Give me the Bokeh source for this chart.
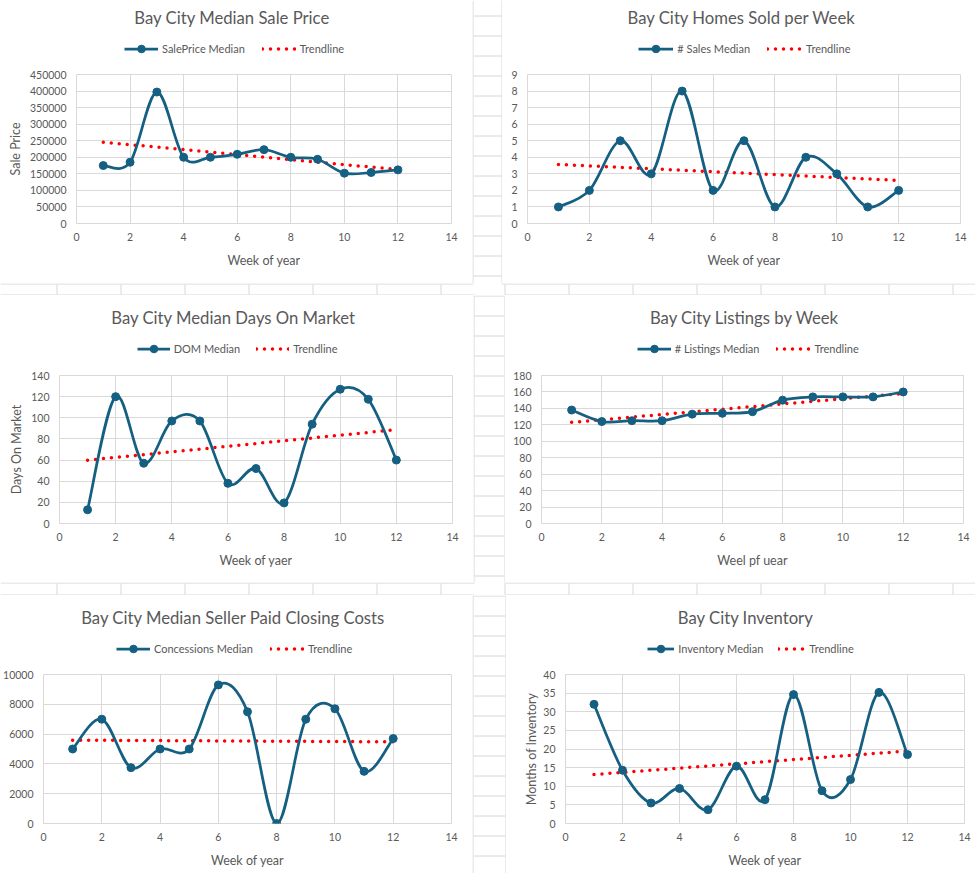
import numpy as np
from bokeh.plotting import figure
from bokeh.models import Range1d, FixedTicker, BasicTickFormatter, Label, Legend, LegendItem
from bokeh.layouts import row, column
from bokeh.embed import file_html
from bokeh.resources import INLINE

# ---------------- data ----------------
weeks = [1, 2, 3, 4, 5, 6, 7, 8, 9, 10, 11, 12]
sale_price_median = [175000, 185000, 397000, 200000, 200000, 209000, 223000, 200000, 194000, 152000, 154000, 162000]
sales_median = [1, 2, 5, 3, 8, 2, 5, 1, 4, 3, 1, 2]
dom_median = [13, 120, 57, 97, 97, 38, 52, 19.5, 94, 127, 117.5, 60]
listings_median = [138, 124, 125, 125, 133, 134, 136, 150, 154, 154, 154, 160]
concessions_median = [5000, 7000, 3750, 5000, 5000, 9300, 7500, 0, 7000, 7700, 3500, 5700]
inventory_median = [32, 14.3, 5.5, 9.4, 3.7, 15.4, 6.4, 34.6, 8.8, 11.8, 35.2, 18.5]

x_ticks = [0, 2, 4, 6, 8, 10, 12, 14]
sale_price_ticks = [0, 50000, 100000, 150000, 200000, 250000, 300000, 350000, 400000, 450000]
sales_ticks = [0, 1, 2, 3, 4, 5, 6, 7, 8, 9]
dom_ticks = [0, 20, 40, 60, 80, 100, 120, 140]
listings_ticks = [0, 20, 40, 60, 80, 100, 120, 140, 160, 180]
concessions_ticks = [0, 2000, 4000, 6000, 8000, 10000]
inventory_ticks = [0, 5, 10, 15, 20, 25, 30, 35, 40]

# ---------------- styling ----------------
FONT = "Lato"
TXT = "#595959"
GRID = "#d9d9d9"
SHEET = "#d6d6d6"
BLUE = "#156082"
RED = "#ff0000"
CURVE_W = 2.75
TREND_W = 3.5
TREND_DASH = "0 8"
MARK = 8

# layout in page pixels: header box, chart box, plot frame (l, t, r, b), title centre, legend start
CHARTS = [
    dict(title="Bay City Median Sale Price", series="SalePrice Median", values=sale_price_median,
         yticks=sale_price_ticks, xlabel="Week of year", ylabel="Sale Price", yls=4,
         x0=0, w=472, y0=0, hh=64, h=283, frame=(76, 74, 451, 223), tc=(231.7, 17.3), leg=(124, 48.3), gw=34, sp=17),
    dict(title="Bay City Homes Sold per Week", series="# Sales Median", values=sales_median,
         yticks=sales_ticks, xlabel="Week of year", ylabel=None, yls=4,
         x0=502, w=473, y0=0, hh=64, h=283, frame=(527, 74, 960, 223), tc=(741.3, 17.3), leg=(638.3, 48.3), gw=35, sp=17),
    dict(title="Bay City Median Days On Market", series="DOM Median", values=dom_median,
         yticks=dom_ticks, xlabel="Week of yaer", ylabel="Days On Market", yls=4,
         x0=0, w=473, y0=295, hh=70, h=287, frame=(59, 375, 452, 523), tc=(233.0, 317.3), leg=(136.7, 348.3), gw=33, sp=16),
    dict(title="Bay City Listings by Week", series="# Listings Median", values=listings_median,
         yticks=listings_ticks, xlabel="Weel pf uear", ylabel=None, yls=4,
         x0=505, w=470, y0=295, hh=70, h=287, frame=(541, 375, 963, 523), tc=(744.2, 317.3), leg=(636.7, 348.3), gw=34, sp=17),
    dict(title="Bay City Median Seller Paid Closing Costs", series="Concessions Median", values=concessions_median,
         yticks=concessions_ticks, xlabel="Week of year", ylabel=None, yls=4,
         x0=0, w=472, y0=595, hh=69, h=278, frame=(42, 674, 451, 823), tc=(231.8, 617.3), leg=(115, 648.3), gw=34, sp=17),
    dict(title="Bay City Inventory", series="Inventory Median", values=inventory_median,
         yticks=inventory_ticks, xlabel="Week of year", ylabel="Months of Inventory", yls=1,
         x0=506, w=469, y0=595, hh=69, h=278, frame=(565, 674, 964, 823), tc=(745.2, 617.3), leg=(647.3, 648.3), gw=27, sp=15),
]


def smooth_segments(xs, ys):
    """Bezier control points for a smoothed line through the points (Catmull-Rom style)."""
    x = np.asarray(xs, float)
    y = np.asarray(ys, float)
    xp = np.concatenate([[x[0]], x, [x[-1]]])
    yp = np.concatenate([[y[0]], y, [y[-1]]])
    j = np.arange(1, len(x))
    return dict(
        x0=x[:-1], y0=y[:-1], x1=x[1:], y1=y[1:],
        cx0=xp[j] + (xp[j + 1] - xp[j - 1]) / 6.0, cy0=yp[j] + (yp[j + 1] - yp[j - 1]) / 6.0,
        cx1=xp[j + 1] - (xp[j + 2] - xp[j]) / 6.0, cy1=yp[j + 1] - (yp[j + 2] - yp[j]) / 6.0,
    )


def trend(vals):
    slope, intercept = np.polyfit(weeks, vals, 1)
    tx = [weeks[0], weeks[-1]]
    return tx, [slope * t + intercept for t in tx]


def blank_figure(w, h, xr, yr, left=0, right=0):
    p = figure(width=w, height=h, x_range=xr, y_range=yr, output_backend="svg", toolbar_location=None,
               min_border=0, min_border_left=left, min_border_right=right,
               x_axis_location=None, y_axis_location=None)
    p.grid.visible = False
    p.outline_line_color = None
    p.background_fill_color = "white"
    p.border_fill_color = "white"
    return p


def make_header(c):
    x0, y0, w, hh = c["x0"], c["y0"], c["w"], c["hh"]
    fl, ft, fr, fb = c["frame"]
    # frame of the header is aligned with the chart frame below it
    p = blank_figure(w, hh, Range1d(-30, -20), Range1d(-30, -20), left=fl - x0, right=x0 + w - fr)
    tcx, tcy = c["tc"]
    p.add_layout(Label(x=tcx - fl, y=(y0 + hh) - tcy, x_units="screen", y_units="screen", text=c["title"],
                       text_font=FONT, text_font_size="16.7px", text_color=TXT,
                       text_align="center", text_baseline="middle"))
    # legend samples: same series, drawn out of view; only their legend glyphs show
    vals = c["values"]
    tx, ty = trend(vals)
    s_curve = p.line(weeks, vals, line_color=BLUE, line_width=CURVE_W)
    s_pts = p.scatter(weeks, vals, marker="circle", size=MARK, fill_color=BLUE, line_color=BLUE)
    s_trend = p.line(tx, ty, line_color=RED, line_width=TREND_W, line_dash=TREND_DASH, line_cap="round")
    gh = 19
    lx, lcy = c["leg"]
    legend = Legend(items=[LegendItem(label=c["series"], renderers=[s_curve, s_pts]),
                           LegendItem(label="Trendline", renderers=[s_trend])],
                    location=(lx - fl, (y0 + hh) - lcy - gh / 2.0), orientation="horizontal",
                    glyph_width=c["gw"], glyph_height=gh, label_height=gh, label_standoff=4,
                    spacing=c["sp"], padding=0, margin=0, border_line_color=None,
                    background_fill_alpha=0, label_text_font=FONT, label_text_font_size="11px",
                    label_text_color=TXT)
    p.add_layout(legend)
    return p


def make_chart(c):
    x0, w = c["x0"], c["w"]
    top = c["y0"] + c["hh"]
    bottom = c["y0"] + c["h"]
    fl, ft, fr, fb = c["frame"]
    p = figure(width=w, height=bottom - top, x_range=Range1d(0, x_ticks[-1]), y_range=Range1d(0, c["yticks"][-1]),
               output_backend="svg", toolbar_location=None,
               min_border_left=fl - x0, min_border_right=x0 + w - fr,
               min_border_top=ft - top, min_border_bottom=bottom - fb)
    p.background_fill_color = "white"
    p.border_fill_color = "white"
    p.outline_line_color = GRID
    p.xaxis.ticker = FixedTicker(ticks=x_ticks, minor_ticks=[])
    p.yaxis.ticker = FixedTicker(ticks=c["yticks"], minor_ticks=[])
    p.yaxis.formatter = BasicTickFormatter(use_scientific=False)
    for ax in p.axis:
        ax.axis_line_color = None
        ax.major_tick_line_color = None
        ax.minor_tick_line_color = None
        ax.major_tick_out = 0
        ax.major_tick_in = 0
        ax.major_label_text_font = FONT
        ax.major_label_text_font_size = "10.5px"
        ax.major_label_text_color = TXT
        ax.axis_label_text_font = FONT
        ax.axis_label_text_font_size = "12.5px"
        ax.axis_label_text_font_style = "normal"
        ax.axis_label_text_color = TXT
    p.xaxis.major_label_standoff = 9
    p.xaxis.axis_label = c["xlabel"]
    p.xaxis.axis_label_standoff = 9
    p.yaxis.major_label_standoff = 10
    if c["ylabel"]:
        p.yaxis.axis_label = c["ylabel"]
        p.yaxis.axis_label_standoff = c["yls"]
    p.xgrid.grid_line_color = GRID
    p.ygrid.grid_line_color = GRID

    vals = c["values"]
    tx, ty = trend(vals)
    p.line(tx, ty, line_color=RED, line_width=TREND_W, line_dash=TREND_DASH, line_cap="round")
    seg = smooth_segments(weeks, vals)
    p.bezier(x0=seg["x0"], y0=seg["y0"], x1=seg["x1"], y1=seg["y1"],
             cx0=seg["cx0"], cy0=seg["cy0"], cx1=seg["cx1"], cy1=seg["cy1"],
             line_color=BLUE, line_width=CURVE_W)
    p.scatter(weeks, vals, marker="circle", size=MARK, fill_color=BLUE, line_color=BLUE)
    return p


COLS = [56 + 64 * k for k in range(16)]
ROWS = [15 + 20 * k for k in range(44)]


def sheet_piece(x0, y0, w, h, hsegs, vsegs):
    p = blank_figure(w, h, Range1d(x0, x0 + w), Range1d(y0 + h, y0))
    xs0, ys0, xs1, ys1 = [], [], [], []
    for (yy, xa, xb) in hsegs:
        xs0.append(xa); xs1.append(xb + 1); ys0.append(yy + 0.5); ys1.append(yy + 0.5)
    for (xx, ya, yb) in vsegs:
        xs0.append(xx + 0.5); xs1.append(xx + 0.5); ys0.append(ya); ys1.append(yb + 1)
    p.segment(xs0, ys0, xs1, ys1, line_color=SHEET, line_width=1)
    return p


W = 975
blocks = [column(make_header(c), make_chart(c)) for c in CHARTS]

gapV1 = sheet_piece(472, 0, 30, 283,
                    [(r, 473, 500) for r in ROWS if 0 <= r < 283],
                    [(472, 0, 282), (501, 0, 282)])
gapA = sheet_piece(0, 283, W, 12,
                   [(283, 0, 472), (283, 501, W - 1), (294, 0, 473), (294, 504, W - 1)],
                   [(cx, 284, 293) for cx in COLS if cx < W])
gapV2 = sheet_piece(473, 295, 32, 287,
                    [(r, 474, 503) for r in ROWS if 295 <= r < 582],
                    [(473, 295, 581), (504, 295, 581)])
gapB = sheet_piece(0, 582, W, 13,
                   [(582, 0, 473), (582, 504, W - 1), (594, 0, 472), (594, 505, W - 1)],
                   [(cx, 583, 593) for cx in COLS if cx < W])
gapV3 = sheet_piece(472, 595, 34, 278,
                    [(r, 473, 504) for r in ROWS if 595 <= r < 873],
                    [(472, 595, 872), (505, 595, 872)])

page = column(row(blocks[0], gapV1, blocks[1]),
              gapA,
              row(blocks[2], gapV2, blocks[3]),
              gapB,
              row(blocks[4], gapV3, blocks[5]))

open("out.html", "w").write(file_html(page, INLINE))
